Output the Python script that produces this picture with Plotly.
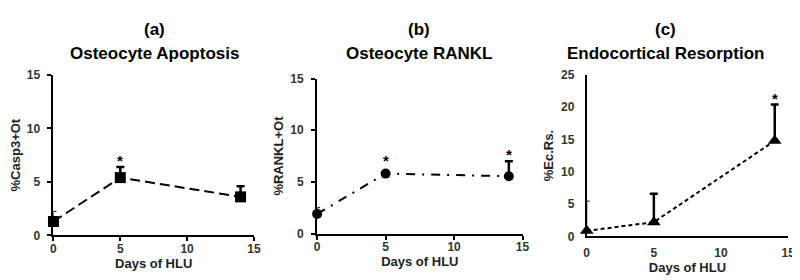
import plotly.graph_objects as go

days = [0, 5, 14]

apop_vals = [1.3, 5.4, 3.6]
apop_err = [0.95, 1.0, 1.0]

rankl_vals = [1.9, 5.8, 5.55]
rankl_err = [0.6, 0.0, 1.45]

resorp_vals = [0.85, 2.2, 14.8]
resorp_err = [4.6, 4.4, 5.6]

panel_labels = ["(a)", "(b)", "(c)"]
panel_titles = ["Osteocyte Apoptosis", "Osteocyte RANKL", "Endocortical Resorption"]
y_titles = ["%Casp3+Ot", "%RANKL+Ot", "%Ec.Rs."]
x_title = "Days of HLU"
x_ticks = [0, 5, 10, 15]
y_ticks_ab = [0, 5, 10, 15]
y_ticks_c = [0, 5, 10, 15, 20, 25]
star_days = [[5], [5, 14], [14]]

W, H = 800, 280
# pixel boxes for each plot area: (x0, x1, ytop, ybottom)
boxes = [(43, 246, 63, 232), (310, 518, 67, 230), (583, 787, 63, 233)]
title_centers = [145, 413, 663]
show_ticks = [True, True, False]

series = [
    (apop_vals, apop_err, "square", 11, "10px,5px"),
    (rankl_vals, rankl_err, "circle", 10, "9px,7px,2px,7px"),
    (resorp_vals, resorp_err, "triangle-up", 12, "4px,3px"),
]
yranges = [[0, 15], [0, 15], [0, 25]]
ytickss = [y_ticks_ab, y_ticks_ab, y_ticks_c]

fig = go.Figure()
font_family = "Liberation Sans, Arial, sans-serif"
annotations = []

for i, (vals, err, sym, msize, dash) in enumerate(series):
    n = "" if i == 0 else str(i + 1)
    # error bar of the day-0 point sits behind the y axis line: draw it thin
    fig.add_trace(go.Scatter(
        x=days[:1], y=vals[:1], mode="markers",
        marker=dict(size=1, color="rgba(0,0,0,0)"),
        error_y=dict(type="data", symmetric=False, array=err[:1],
                     arrayminus=[0], color="black", thickness=1, width=3),
        cliponaxis=False, showlegend=False, hoverinfo="skip",
        xaxis="x" + n, yaxis="y" + n,
    ))
    fig.add_trace(go.Scatter(
        x=days, y=vals, mode="lines+markers",
        line=dict(color="black", width=2, dash=dash),
        marker=dict(symbol=sym, size=msize, color="black"),
        error_y=dict(type="data", symmetric=False, array=[0] + err[1:],
                     arrayminus=[0] * len(err), color="black",
                     thickness=2.5, width=4),
        cliponaxis=False, showlegend=False,
        xaxis="x" + n, yaxis="y" + n,
    ))
    x0, x1, yt, yb = boxes[i]
    xd = [x0 / W, x1 / W]
    yd = [1 - yb / H, 1 - yt / H]
    tk = show_ticks[i]
    common = dict(showline=True, linecolor="black", linewidth=2,
                  ticks="outside" if tk else "", ticklen=4, tickwidth=1.5, tickcolor="black",
                  showgrid=False, zeroline=False,
                  tickfont=dict(family=font_family, size=12, color="#333", weight="bold"))
    fig.update_layout(**{
        "xaxis" + n: dict(domain=xd, range=[0, 15], tickvals=x_ticks,
                          anchor="y" + n, ticklabelstandoff=-3 if tk else 4,
                          title=dict(text="<b>" + x_title + "</b>", standoff=2 if tk else 1,
                                     font=dict(family=font_family, size=13, color="#222")),
                          **common),
        "yaxis" + n: dict(domain=yd, range=yranges[i], tickvals=ytickss[i],
                          anchor="x" + n, ticklabelstandoff=5 if tk else 8,
                          title=dict(text="<b>" + y_titles[i] + "</b>", standoff=4,
                                     font=dict(family=font_family, size=13, color="#222")),
                          **common),
    })
    xc = title_centers[i] / W
    annotations.append(dict(text="<b>" + panel_labels[i] + "</b>", xref="paper", yref="paper",
                            x=xc, y=1 - 15 / H, xanchor="center", yanchor="middle",
                            showarrow=False,
                            font=dict(family=font_family, size=17, color="black")))
    annotations.append(dict(text="<b>" + panel_titles[i] + "</b>", xref="paper", yref="paper",
                            x=xc, y=1 - 41 / H, xanchor="center", yanchor="middle",
                            showarrow=False,
                            font=dict(family=font_family, size=17, color="black")))
    for d in star_days[i]:
        k = days.index(d)
        annotations.append(dict(text="<b>*</b>", xref="x" + n, yref="y" + n,
                                x=d, y=vals[k] + err[k], yanchor="bottom",
                                yshift=-4 if err[k] > 0 else 3,
                                showarrow=False,
                                font=dict(family=font_family, size=15, color="black")))

fig.update_layout(width=W, height=H, margin=dict(l=0, r=0, t=0, b=0),
                  paper_bgcolor="white", plot_bgcolor="white",
                  annotations=annotations)
fig.write_html("out.html")
